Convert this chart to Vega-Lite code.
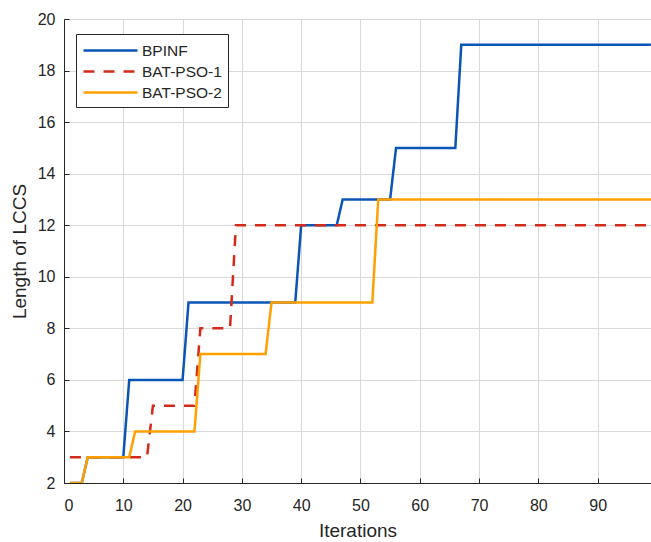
{
  "$schema": "https://vega.github.io/schema/vega-lite/v6.json",
  "width": 587,
  "height": 464,
  "autosize": "none",
  "padding": {"left": 64, "top": 19, "right": 0, "bottom": 59},
  "background": "white",
  "config": {
    "font": "Liberation Sans",
    "view": {"stroke": "#262626", "strokeWidth": 1},
    "axis": {
      "domainColor": "#262626",
      "tickColor": "#262626",
      "gridColor": "#d9d9d9",
      "gridOpacity": 1,
      "labelColor": "#262626",
      "titleColor": "#262626",
      "labelFont": "Liberation Sans",
      "titleFont": "Liberation Sans",
      "labelFontSize": 16,
      "titleFontSize": 19,
      "titleFontWeight": "normal",
      "tickSize": -5
    }
  },
  "data": {
    "values": [
      {"series": "BPINF", "x": 1, "y": 2},
      {"series": "BPINF", "x": 3, "y": 2},
      {"series": "BPINF", "x": 4, "y": 3},
      {"series": "BPINF", "x": 10, "y": 3},
      {"series": "BPINF", "x": 11, "y": 6},
      {"series": "BPINF", "x": 20, "y": 6},
      {"series": "BPINF", "x": 21, "y": 9},
      {"series": "BPINF", "x": 39, "y": 9},
      {"series": "BPINF", "x": 40, "y": 12},
      {"series": "BPINF", "x": 46, "y": 12},
      {"series": "BPINF", "x": 47, "y": 13},
      {"series": "BPINF", "x": 55, "y": 13},
      {"series": "BPINF", "x": 56, "y": 15},
      {"series": "BPINF", "x": 66, "y": 15},
      {"series": "BPINF", "x": 67, "y": 19},
      {"series": "BPINF", "x": 100, "y": 19},
      {"series": "BAT-PSO-1", "x": 1, "y": 3},
      {"series": "BAT-PSO-1", "x": 14, "y": 3},
      {"series": "BAT-PSO-1", "x": 15, "y": 5},
      {"series": "BAT-PSO-1", "x": 22, "y": 5},
      {"series": "BAT-PSO-1", "x": 23, "y": 8},
      {"series": "BAT-PSO-1", "x": 28, "y": 8},
      {"series": "BAT-PSO-1", "x": 29, "y": 12},
      {"series": "BAT-PSO-1", "x": 100, "y": 12},
      {"series": "BAT-PSO-2", "x": 1, "y": 2},
      {"series": "BAT-PSO-2", "x": 3, "y": 2},
      {"series": "BAT-PSO-2", "x": 4, "y": 3},
      {"series": "BAT-PSO-2", "x": 11, "y": 3},
      {"series": "BAT-PSO-2", "x": 12, "y": 4},
      {"series": "BAT-PSO-2", "x": 22, "y": 4},
      {"series": "BAT-PSO-2", "x": 23, "y": 7},
      {"series": "BAT-PSO-2", "x": 34, "y": 7},
      {"series": "BAT-PSO-2", "x": 35, "y": 9},
      {"series": "BAT-PSO-2", "x": 52, "y": 9},
      {"series": "BAT-PSO-2", "x": 53, "y": 13},
      {"series": "BAT-PSO-2", "x": 100, "y": 13}
    ]
  },
  "mark": {"type": "line", "strokeWidth": 2.5, "clip": true},
  "encoding": {
    "x": {
      "field": "x",
      "type": "quantitative",
      "scale": {"domain": [0, 99], "nice": false, "zero": false},
      "axis": {"values": [0, 10, 20, 30, 40, 50, 60, 70, 80, 90], "title": "Iterations", "titlePadding": 8, "labelPadding": 19}
    },
    "y": {
      "field": "y",
      "type": "quantitative",
      "scale": {"domain": [2, 20], "nice": false, "zero": false},
      "axis": {"values": [2, 4, 6, 8, 10, 12, 14, 16, 18, 20], "title": "Length of LCCS", "titlePadding": 8, "labelPadding": 14}
    },
    "color": {
      "field": "series",
      "type": "nominal",
      "scale": {"domain": ["BPINF", "BAT-PSO-1", "BAT-PSO-2"], "range": ["#0a55b5", "#d42a1a", "#ffa000"]},
      "legend": {
        "title": null,
        "orient": "none",
        "legendX": 12,
        "legendY": 15,
        "strokeColor": "#262626",
        "fillColor": "white",
        "padding": 6,
        "symbolType": "M-1,0H5",
        "symbolSize": 324,
        "symbolStrokeWidth": 2.5,
        "rowPadding": 2,
        "labelFontSize": 15.5,
        "labelColor": "#262626",
        "labelOffset": 39
      }
    },
    "strokeDash": {
      "field": "series",
      "type": "nominal",
      "scale": {"domain": ["BPINF", "BAT-PSO-1", "BAT-PSO-2"], "range": [[1, 0], [11, 9], [1, 0]]},
      "legend": null
    },
    "order": {"field": "x", "type": "quantitative"}
  }
}
